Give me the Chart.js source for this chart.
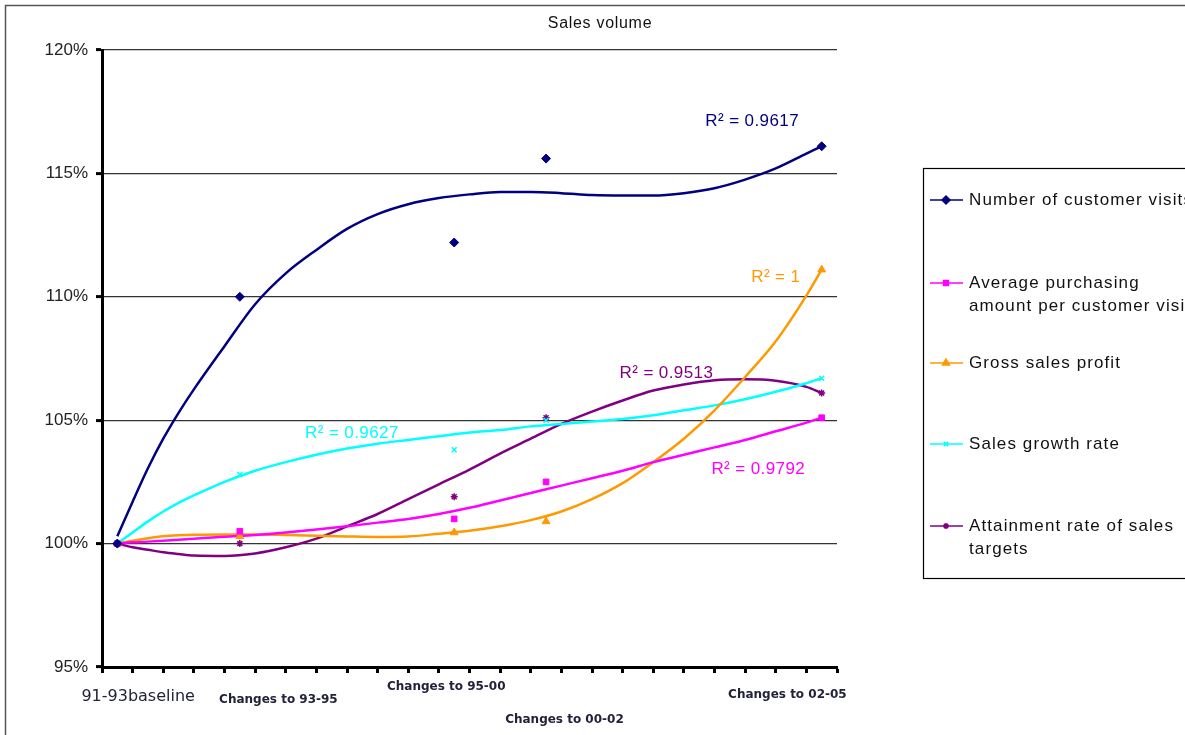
<!DOCTYPE html>
<html>
<head>
<meta charset="utf-8">
<script src="https://cdn.jsdelivr.net/npm/chart.js@4.4.1/dist/chart.umd.min.js"></script>
<style>
  html, body { margin: 0; padding: 0; background: #fff; }
  #wrap { position: relative; width: 1185px; height: 735px; }
</style>
</head>
<body>
<div id="wrap"><canvas id="salesChart"></canvas></div>
<script>
// periods on the x axis and where the measured points sit (axis runs 0..24)
const periods = ['91-93baseline', 'Changes to 93-95', 'Changes to 95-00', 'Changes to 00-02', 'Changes to 02-05'];
const periodX = [0.5, 4.5, 11.5, 14.5, 23.5];

const seriesNames = [
  'Number of customer visits',
  'Average purchasing amount per customer visits',
  'Gross sales profit',
  'Sales growth rate',
  'Attainment rate of sales targets'
];

// measured values (%)
const customerVisits = [100, 110.0, 112.2, 115.6, 116.1];
const avgPurchase = [100, 100.5, 101.0, 102.5, 105.1];
const grossProfit = [100, 100.3, 100.45, 100.9, 111.1];
const salesGrowth = [100, 102.8, 103.8, 105.0, 106.7];
const attainment = [100, 100.0, 101.9, 105.1, 106.1];

// trend lines
const trendX = [0.5, 1, 1.5, 2, 2.5, 3, 4, 5, 6, 7, 8, 9, 10, 11, 12, 13, 14, 15, 16, 17, 18, 19, 20, 21, 22, 23, 23.5];
const trendVisits = [100.3, 101.7, 103.05, 104.25, 105.3, 106.25, 108.0, 109.7, 110.95, 111.9, 112.75, 113.35, 113.75, 114.0, 114.15, 114.25, 114.25, 114.2, 114.12, 114.1, 114.1, 114.2, 114.4, 114.75, 115.2, 115.8, 116.1];
const trendPurchase = [100.0, 100.05, 100.08, 100.12, 100.16, 100.2, 100.28, 100.35, 100.45, 100.57, 100.7, 100.85, 101.0, 101.2, 101.45, 101.75, 102.05, 102.35, 102.65, 102.95, 103.3, 103.6, 103.9, 104.2, 104.55, 104.9, 105.1];
const trendProfit = [100.0, 100.12, 100.22, 100.3, 100.34, 100.36, 100.37, 100.37, 100.35, 100.32, 100.29, 100.27, 100.29, 100.4, 100.52, 100.7, 100.95, 101.3, 101.8, 102.45, 103.3, 104.25, 105.4, 106.75, 108.2, 110.05, 111.1];
const trendGrowth = [100.0, 100.45, 100.9, 101.3, 101.65, 101.95, 102.5, 102.95, 103.3, 103.6, 103.85, 104.05, 104.2, 104.35, 104.5, 104.6, 104.75, 104.85, 104.95, 105.05, 105.2, 105.4, 105.6, 105.85, 106.15, 106.5, 106.7];
const trendAttain = [100.0, 99.85, 99.75, 99.65, 99.58, 99.52, 99.5, 99.6, 99.85, 100.2, 100.7, 101.2, 101.8, 102.4, 103.0, 103.65, 104.25, 104.85, 105.35, 105.8, 106.2, 106.45, 106.62, 106.66, 106.6, 106.35, 106.1];

const r2Text = ['R² = 0.9617', 'R² = 0.9792', 'R² = 1', 'R² = 0.9627', 'R² = 0.9513'];
const yTicks = [95, 100, 105, 110, 115, 120];

const colors = ['#000080', '#FF00FF', '#FF9900', '#00FFFF', '#800080'];
const pointStyles = ['rectRot', 'rect', 'triangle', 'crossRot', 'star'];
const pointSizes = [4.5, 4, 4.5, 3.5, 3.5];

const measured = [customerVisits, avgPurchase, grossProfit, salesGrowth, attainment];
const trends = [trendVisits, trendPurchase, trendProfit, trendGrowth, trendAttain];

function toXY(xs, ys) {
  return xs.map((x, i) => ({ x: x, y: ys[i] }));
}

const datasets = [];
measured.forEach((vals, i) => {
  datasets.push({
    label: seriesNames[i],
    data: toXY(periodX, vals),
    showLine: false,
    borderColor: colors[i],
    backgroundColor: colors[i],
    pointStyle: pointStyles[i],
    pointRadius: pointSizes[i],
    pointBorderWidth: (i >= 3) ? 1.5 : 1
  });
});
trends.forEach((vals, i) => {
  datasets.push({
    label: 'trend ' + i,
    data: toXY(trendX, vals),
    borderColor: colors[i],
    borderWidth: 2.5,
    pointRadius: 0,
    fill: false,
    cubicInterpolationMode: 'monotone'
  });
});

// where text pieces go (axis units / percent)
const periodLabelPos = [
  { x: 1.18, py: 697, font: '16px "DejaVu Sans"' },
  { x: 5.76, py: 700, font: 'bold 12px "DejaVu Sans"' },
  { x: 11.24, py: 687, font: 'bold 12px "DejaVu Sans"' },
  { x: 15.1, py: 720, font: 'bold 12px "DejaVu Sans"' },
  { x: 22.38, py: 695, font: 'bold 12px "DejaVu Sans"' }
];
const r2Pos = [
  { x: 19.7, y: 117.13 },
  { x: 19.9, y: 103.0 },
  { x: 21.2, y: 110.8 },
  { x: 6.63, y: 104.45 },
  { x: 16.9, y: 106.92 }
];
const legendRows = [
  { y: 200, lines: ['Number of customer visits'] },
  { y: 283, lines: ['Average purchasing', 'amount per customer visits'] },
  { y: 363, lines: ['Gross sales profit'] },
  { y: 444, lines: ['Sales growth rate'] },
  { y: 526, lines: ['Attainment rate of sales', 'targets'] }
];

const decor = {
  id: 'decor',
  afterDraw(chart) {
    const ctx = chart.ctx;
    const xs = chart.scales.x, ys = chart.scales.y;
    ctx.save();

    // outer frame (left + top)
    ctx.strokeStyle = '#555';
    ctx.lineWidth = 1.5;
    ctx.beginPath();
    ctx.moveTo(5.5, 735);
    ctx.lineTo(5.5, 5.5);
    ctx.lineTo(1185, 5.5);
    ctx.stroke();

    // title
    ctx.fillStyle = '#111';
    ctx.font = '16px "Liberation Sans"';
    ctx.letterSpacing = '0.7px';
    ctx.textAlign = 'center';
    ctx.textBaseline = 'middle';
    ctx.fillText('Sales volume', 600, 24);
    ctx.letterSpacing = '0px';

    // period labels under the axis
    ctx.fillStyle = '#22223a';
    periods.forEach((p, i) => {
      const pos = periodLabelPos[i];
      ctx.font = pos.font;
      ctx.fillText(p, xs.getPixelForValue(pos.x), pos.py);
    });

    // R squared labels
    ctx.font = '17px "Liberation Sans"';
    ctx.letterSpacing = '0.4px';
    ctx.textAlign = 'left';
    r2Text.forEach((t, i) => {
      ctx.fillStyle = colors[i];
      ctx.fillText(t, xs.getPixelForValue(r2Pos[i].x), ys.getPixelForValue(r2Pos[i].y));
    });

    // legend box
    ctx.strokeStyle = '#000';
    ctx.lineWidth = 1.2;
    ctx.strokeRect(923.5, 168.5, 300, 410);
    legendRows.forEach((row, i) => {
      ctx.strokeStyle = colors[i];
      ctx.lineWidth = 1.5;
      ctx.beginPath();
      ctx.moveTo(930, row.y);
      ctx.lineTo(963, row.y);
      ctx.stroke();
      ctx.fillStyle = colors[i];
      Chart.helpers.drawPoint(ctx, {
        pointStyle: pointStyles[i],
        radius: pointSizes[i] - 0.5,
        rotation: 0,
        borderWidth: 1.5
      }, 946, row.y);
      ctx.fillStyle = '#111';
      ctx.font = '17px "Liberation Sans"';
      ctx.letterSpacing = '1.1px';
      row.lines.forEach((ln, k) => {
        ctx.fillText(ln, 969, row.y + k * 23);
      });
    });

    ctx.restore();
  }
};

new Chart(document.getElementById('salesChart'), {
  type: 'line',
  data: { datasets: datasets },
  options: {
    responsive: true,
    maintainAspectRatio: false,
    animation: false,
    layout: { padding: { left: 0, top: 50, right: 348, bottom: 0 } },
    plugins: {
      legend: { display: false },
      title: { display: false },
      tooltip: { enabled: false }
    },
    scales: {
      x: {
        type: 'linear',
        min: 0,
        max: 24,
        afterFit: (s) => { s.height = 68; },
        afterBuildTicks: (s) => {
          const t = [];
          for (let v = 0; v <= 24; v++) t.push({ value: v });
          s.ticks = t;
        },
        ticks: { callback: () => '' },
        grid: { drawOnChartArea: false, drawTicks: true, tickLength: 6, tickWidth: 3, tickColor: '#000' },
        border: { display: true, color: '#000', width: 3 }
      },
      y: {
        min: 95,
        max: 120,
        afterFit: (s) => { s.width = 102; },
        afterBuildTicks: (s) => { s.ticks = yTicks.map(v => ({ value: v })); },
        ticks: {
          padding: 8,
          color: '#222',
          font: { family: 'Liberation Sans', size: 17 },
          callback: (v) => v + '%'
        },
        grid: { color: '#333', lineWidth: 1.2, tickLength: 6, tickWidth: 3, tickColor: '#000' },
        border: { display: true, color: '#000', width: 3 }
      }
    }
  },
  plugins: [decor]
});
</script>
</body>
</html>
